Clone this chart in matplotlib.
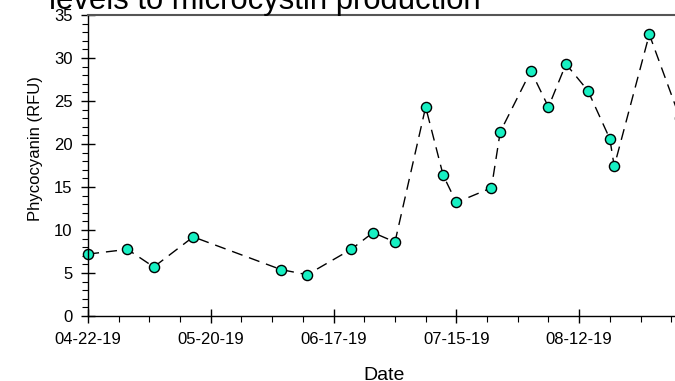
import matplotlib
matplotlib.use("Agg")
import matplotlib.pyplot as plt
import matplotlib.dates as mdates
import pandas as pd
import numpy as np

plt.rcParams['font.family'] = ['Liberation Sans', 'DejaVu Sans']

dates = ["2019-04-22", "2019-05-01", "2019-05-07", "2019-05-16", "2019-06-05",
         "2019-06-11", "2019-06-21", "2019-06-26", "2019-07-01", "2019-07-08",
         "2019-07-12", "2019-07-15", "2019-07-23", "2019-07-25", "2019-08-01",
         "2019-08-05", "2019-08-09", "2019-08-14", "2019-08-19", "2019-08-20",
         "2019-08-28", "2019-09-04"]
phycocyanin = [7.2, 7.75, 5.7, 9.2, 5.4, 4.8, 7.75, 9.7, 8.6, 24.3,
               16.35, 13.2, 14.9, 21.4, 28.5, 24.3, 29.3, 26.2, 20.6, 17.4,
               32.75, 23.0]
title = "levels to microcystin production"
xlabel = "Date"
ylabel = "Phycocyanin (RFU)"
xstart, xend = "2019-04-22", "2019-09-04"

W, H = 675, 381
fig = plt.figure(figsize=(W / 100, H / 100), dpi=100)
ax = fig.add_axes([88 / W, 1 - 316 / H, 592 / W, 301 / H])

x = pd.to_datetime(dates)
ax.plot(x, phycocyanin, color='black', lw=1.0, dashes=(8, 5),
        marker='o', markersize=7.3, markerfacecolor='#17F0C3',
        markeredgecolor='black', markeredgewidth=1.0, clip_on=False)

ax.set_xlim(pd.Timestamp(xstart), pd.Timestamp(xend))
ax.set_ylim(0, 35)

major = pd.date_range(xstart, xend, freq='28D')
minor = pd.date_range(xstart, xend, freq='7D')
ax.set_xticks(major)
ax.set_xticks(minor, minor=True)
ax.xaxis.set_major_formatter(mdates.DateFormatter('%m-%d-%y'))
ax.set_yticks(np.arange(0, 36, 5))
ax.set_yticks(np.arange(0, 36, 1), minor=True)

ax.tick_params(which='major', direction='inout', length=10, width=1.0,
               labelsize=12, color='black')
ax.tick_params(axis='x', which='major', pad=6.5)
ax.tick_params(axis='y', which='major', pad=6)
ax.tick_params(which='minor', direction='out', length=4, width=0.8, color='black')

for s in ['left', 'bottom']:
    ax.spines[s].set_color('black')
    ax.spines[s].set_linewidth(1.0)
ax.spines['top'].set_color('#555555')
ax.spines['top'].set_linewidth(1.5)
ax.spines['right'].set_visible(False)

ax.set_xlabel(xlabel, fontsize=14)
ax.xaxis.set_label_coords((384 - 88) / 592, -(375 - 316) / 301)
ax.xaxis.label.set_va('center')
ax.set_ylabel(ylabel, fontsize=12)
ax.yaxis.set_label_coords(-(88 - 36) / 592, (316 - 149) / 301)
ax.yaxis.label.set_va('center')

fig.text(265 / W, 1 - 9.5 / H, title, fontsize=22.3, ha='center', va='baseline')

fig.savefig('out.png', dpi=100)
